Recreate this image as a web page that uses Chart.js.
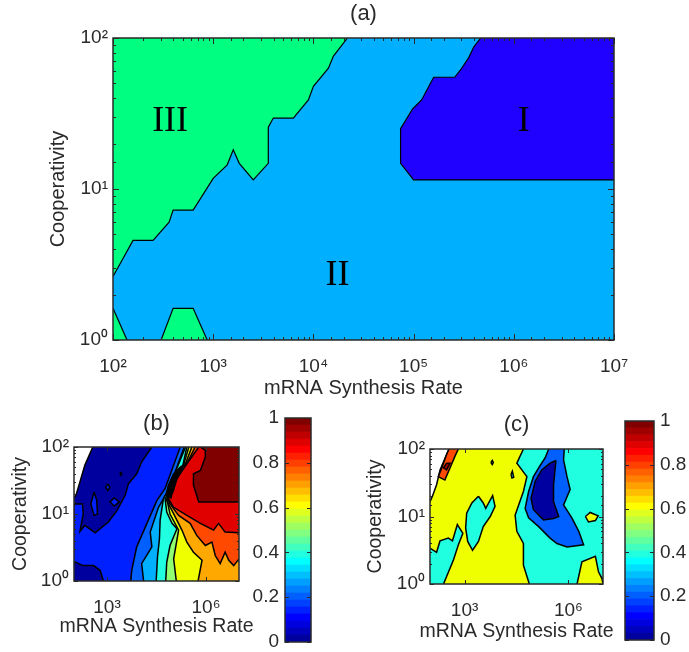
<!DOCTYPE html>
<html>
<head>
<meta charset="utf-8">
<title>Regions</title>
<script src="https://cdn.jsdelivr.net/npm/chart.js@4/dist/chart.umd.min.js"></script>
<style>
  body { margin: 0; background: #fff; width: 689px; height: 652px; overflow: hidden; }
  canvas { position: absolute; }
</style>
</head>
<body>
<script>
// all region outlines are log10(rate), log10(cooperativity)
const xLabel = 'mRNA Synthesis Rate';
const yLabel = 'Cooperativity';

// panel (a)
const aFullX = [2, 7, 7, 2];
const aFullY = [0, 0, 2, 2];
const aGreenX = [4.34, 4.20, 4.15, 4.00, 3.95, 3.80, 3.60, 3.55, 3.55, 3.40, 3.26, 3.20, 3.14, 3.00, 2.80, 2.60, 2.56, 2.40, 2.20, 2.10, 2, 2];
const aGreenY = [2, 1.88, 1.80, 1.68, 1.59, 1.47, 1.47, 1.41, 1.17, 1.06, 1.17, 1.26, 1.16, 1.07, 0.86, 0.86, 0.78, 0.66, 0.66, 0.54, 0.42, 2];
const aCornerX = [2, 2.14, 2];
const aCornerY = [0.21, 0, 0];
const aIslandX = [2.48, 2.60, 2.80, 2.94];
const aIslandY = [0, 0.21, 0.21, 0];
const aBlueX = [5.67, 5.60, 5.55, 5.47, 5.41, 5.20, 5.08, 4.99, 4.87, 4.87, 5.00, 7, 7];
const aBlueY = [2, 1.94, 1.87, 1.79, 1.74, 1.74, 1.59, 1.53, 1.40, 1.17, 1.06, 1.06, 2];
const aTexts = ['III', 'II', 'I'];
const aTextX = [2.57, 4.24, 6.10];
const aTextY = [1.45, 0.43, 1.45];

// panel (b)
const bNavyX = [2, 2.06, 2.18, 2.33, 2.57, 7, 7, 2];
const bNavyY = [1.24, 1.28, 1.48, 1.73, 2, 2, 0, 0];
const bBlueX = [4.36, 4.05, 3.90, 3.65, 3.55, 3.30, 3.04, 2.64, 2.33, 2.18, 2.28, 2.26, 2.03, 2, 2, 2.28, 2.59, 2.79, 2.89, 7, 7];
const bBlueY = [2, 1.78, 1.60, 1.45, 1.28, 1.05, 0.88, 0.72, 0.83, 0.74, 1.00, 1.15, 1.15, 1.13, 0.29, 0.23, 0.23, 0.16, 0, 0, 2];
const bHole1X = [2.61, 2.51, 2.61, 2.71, 2.69];
const bHole1Y = [1.33, 1.15, 0.98, 1.00, 1.20];
const bHole2X = [3.02, 2.96, 3.02, 3.09];
const bHole2Y = [1.45, 1.40, 1.35, 1.40];
const bHole3X = [3.22, 3.09, 3.22, 3.37];
const bHole3Y = [1.24, 1.18, 1.12, 1.18];
const bDotX = [3.39, 3.42, 3.45, 3.42];
const bDotY = [1.60, 1.62, 1.60, 1.58];
const bAzureX = [3.72, 3.75, 3.90, 4.21, 4.51, 4.76, 5.22, 7, 7];
const bAzureY = [0, 0.16, 0.51, 0.86, 1.20, 1.38, 2, 2, 0];
const bSkyX = [4.11, 4.05, 4.36, 4.31, 4.56, 4.86, 5.34, 7, 7];
const bSkyY = [0, 0.26, 0.51, 0.73, 1.10, 1.35, 2, 2, 0];
const bTealX = [4.49, 4.53, 4.59, 4.61, 4.71, 4.79, 4.91, 5.38, 7, 7];
const bTealY = [0, 0.36, 0.63, 0.91, 1.23, 1.30, 1.43, 2, 2, 0];
const bGreenX = [4.78, 4.81, 4.91, 5.12, 4.97, 4.81, 4.76, 4.86, 5.04, 5.17, 5.30, 5.42, 7, 7];
const bGreenY = [0, 0.28, 0.53, 0.78, 0.86, 1.03, 1.23, 1.30, 1.48, 1.60, 1.73, 2, 2, 0];
const bYellowX = [5.10, 5.02, 5.17, 4.91, 4.81, 4.91, 5.07, 5.20, 5.32, 5.48, 7, 7];
const bYellowY = [0, 0.33, 0.76, 1.00, 1.23, 1.30, 1.48, 1.60, 1.73, 2, 2, 0];
const bOrangeX = [5.76, 5.88, 5.62, 5.42, 5.27, 4.97, 4.81, 4.94, 5.10, 5.23, 5.34, 5.57, 7, 7];
const bOrangeY = [0, 0.31, 0.43, 0.58, 0.76, 1.05, 1.20, 1.30, 1.48, 1.60, 1.70, 2, 2, 0];
const bFlameX = [7, 6.84, 6.69, 6.58, 6.43, 6.28, 6.18, 5.98, 5.72, 5.52, 5.17, 4.91, 4.83, 4.96, 5.12, 5.25, 5.35, 5.67, 7];
const bFlameY = [0.33, 0.23, 0.31, 0.43, 0.26, 0.38, 0.58, 0.53, 0.68, 0.86, 0.98, 1.15, 1.23, 1.30, 1.48, 1.60, 1.68, 2, 2];
const bRedX = [7, 6.58, 6.38, 6.23, 5.83, 5.42, 5.02, 4.86, 5.00, 5.12, 5.42, 5.78, 7];
const bRedY = [0.72, 0.73, 0.86, 0.76, 0.86, 0.98, 1.10, 1.23, 1.33, 1.53, 1.75, 2, 2];
const bDarkX = [5.83, 5.98, 5.98, 5.83, 5.62, 5.62, 5.78, 7, 7];
const bDarkY = [2, 1.95, 1.85, 1.65, 1.60, 1.43, 1.18, 1.18, 2];
const bRidgeX = [4.79, 4.94, 5.02, 5.17, 5.32, 5.22, 5.02, 4.86];
const bRidgeY = [1.28, 1.24, 1.43, 1.58, 1.73, 1.70, 1.60, 1.43];

// panel (c)
const cYellowX = [2, 2.07, 2.19, 2.29, 2.55, 7, 7, 2];
const cYellowY = [1.22, 1.30, 1.47, 1.69, 2, 2, 0, 0];
const cFlameX = [2.55, 2.82, 2.72, 2.43, 2.24, 2.34, 2.48];
const cFlameY = [2, 2, 1.89, 1.54, 1.59, 1.72, 1.92];
const cDarkX = [2.48, 2.58, 2.48, 2.39];
const cDarkY = [1.79, 1.79, 1.69, 1.72];
const cLeftX = [2, 2.19, 2.29, 2.53, 2.65, 2.79, 2.95, 2.82, 2.68, 2.39, 2];
const cLeftY = [0.53, 0.47, 0.64, 0.68, 0.64, 0.88, 0.75, 0.58, 0.36, 0, 0];
const cMidX = [3.40, 3.21, 3.06, 3.03, 3.09, 3.23, 3.40, 3.54, 3.74, 3.88, 3.81, 3.61, 3.54];
const cMidY = [1.30, 1.20, 1.05, 0.83, 0.63, 0.50, 0.63, 0.85, 1.00, 1.15, 1.31, 1.12, 1.20];
const cDot1X = [3.76, 3.80, 3.83, 3.80];
const cDot1Y = [1.80, 1.83, 1.80, 1.77];
const cDot2X = [4.34, 4.38, 4.42, 4.37];
const cDot2Y = [1.62, 1.67, 1.58, 1.57];
const cTealX = [4.70, 4.51, 4.80, 4.70, 4.46, 4.51, 4.70, 4.70, 4.87, 7, 7];
const cTealY = [2, 1.79, 1.59, 1.37, 1.02, 0.78, 0.60, 0.28, 0, 0, 2];
const cFootX = [6.25, 6.39, 6.78, 6.87, 6.97, 7];
const cFootY = [0, 0.33, 0.41, 0.18, 0.08, 0];
const cPatchX = [6.49, 6.63, 6.86, 6.78, 6.58];
const cPatchY = [1.00, 1.06, 1.01, 0.94, 0.92];
const cBlueX = [5.43, 5.33, 5.14, 4.99, 4.85, 4.75, 4.85, 5.14, 5.47, 5.67, 5.96, 6.44, 6.30, 6.10, 5.86, 6.05, 5.96, 5.86, 5.88];
const cBlueY = [2, 1.87, 1.72, 1.59, 1.37, 1.12, 0.98, 0.85, 0.68, 0.60, 0.55, 0.58, 0.78, 0.98, 1.17, 1.40, 1.59, 1.84, 2];
const cNavyX = [5.64, 5.47, 5.23, 5.04, 4.92, 4.99, 5.28, 5.57, 5.72, 5.57, 5.57];
const cNavyY = [1.83, 1.79, 1.69, 1.52, 1.27, 1.10, 0.95, 0.97, 1.00, 1.22, 1.47];

// colour bars
const barColors = ['#00009F', '#0000BF', '#0000DF', '#0000FF', '#0020FF', '#0040FF', '#0060FF', '#0080FF',
  '#009FFF', '#00BFFF', '#00DFFF', '#00FFFF', '#20FFDF', '#40FFBF', '#60FF9F', '#80FF80',
  '#9FFF60', '#BFFF40', '#DFFF20', '#FFFF00', '#FFDF00', '#FFBF00', '#FF9F00', '#FF8000',
  '#FF6000', '#FF4000', '#FF2000', '#FF0000', '#DF0000', '#BF0000', '#9F0000', '#800000'];
const barStep = 0.03125;
const barTicks = [0, 0.2, 0.4, 0.6, 0.8, 1];

const aDecades = [2, 3, 4, 5, 6, 7];
const smallDecades = [3, 6];
const yDecades = [0, 1, 2];

const SUP = { 0: '⁰', 1: '¹', 2: '²', 3: '³', 4: '⁴', 5: '⁵', 6: '⁶', 7: '⁷' };
const FONT = 'Liberation Sans';
const INK = '#2a2a2a';
Chart.defaults.font.family = FONT;
Chart.defaults.color = INK;
Chart.defaults.animation = false;

function addCanvas(left, top, w, h) {
  const c = document.createElement('canvas');
  c.width = w;
  c.height = h;
  c.style.left = left + 'px';
  c.style.top = top + 'px';
  c.style.width = w + 'px';
  c.style.height = h + 'px';
  document.body.appendChild(c);
  return c.getContext('2d');
}

function isDecade(v) {
  const l = Math.log10(v);
  return Math.abs(l - Math.round(l)) < 1e-6;
}

// frame and inward ticks, taken from the chart's own scales
const frameTicks = {
  id: 'frameTicks',
  afterDatasetsDraw(chart, args, o) {
    const { ctx, chartArea: a } = chart;
    ctx.save();
    ctx.strokeStyle = '#2a2a2a';
    ctx.lineWidth = 1;
    ctx.beginPath();
    chart.scales.y.ticks.forEach(t => {
      const p = Math.round(chart.scales.y.getPixelForValue(t.value)) + 0.5;
      const len = o.linearY ? o.major : (isDecade(t.value) ? o.major : o.minor);
      ctx.moveTo(a.left, p); ctx.lineTo(a.left + len, p);
      ctx.moveTo(a.right, p); ctx.lineTo(a.right - len, p);
    });
    if (chart.scales.x.type === 'logarithmic') {
      chart.scales.x.ticks.forEach(t => {
        const decade = isDecade(t.value);
        const exp = Math.round(Math.log10(t.value));
        if (o.onlyLabelled && !(decade && smallDecades.includes(exp))) return;
        const p = Math.round(chart.scales.x.getPixelForValue(t.value)) + 0.5;
        const len = decade ? o.major : o.minor;
        ctx.moveTo(p, a.top); ctx.lineTo(p, a.top + len);
        ctx.moveTo(p, a.bottom); ctx.lineTo(p, a.bottom - len);
      });
    }
    ctx.stroke();
    ctx.lineWidth = 1.5;
    ctx.strokeRect(a.left, a.top, a.right - a.left, a.bottom - a.top);
    ctx.restore();
  }
};

// x title is wider than the small panels, the scale title would squeeze it
const xTitle = {
  id: 'xTitle',
  afterDraw(chart, args, o) {
    const { ctx, chartArea: a } = chart;
    ctx.save();
    ctx.font = o.size + 'px "' + FONT + '"';
    ctx.fillStyle = INK;
    ctx.textAlign = 'center';
    ctx.textBaseline = 'middle';
    ctx.fillText(xLabel, (a.left + a.right) / 2, o.y);
    ctx.restore();
  }
};

const regionText = {
  id: 'regionText',
  afterDatasetsDraw(chart) {
    const { ctx, scales } = chart;
    ctx.save();
    ctx.font = '36px "Liberation Serif"';
    ctx.fillStyle = '#000';
    ctx.textAlign = 'center';
    ctx.textBaseline = 'middle';
    aTexts.forEach((t, i) => {
      ctx.fillText(t, scales.x.getPixelForValue(10 ** aTextX[i]), scales.y.getPixelForValue(10 ** aTextY[i]));
    });
    ctx.restore();
  }
};

function onFrame(p, q) {
  return (p[0] === q[0] && (p[0] === 2 || p[0] === 7)) || (p[1] === q[1] && (p[1] === 0 || p[1] === 2));
}

// one filled polygon plus its contour line; frame edges get no contour
function regionSets(regions, lineWidth) {
  const out = [];
  const n = regions.length;
  regions.forEach(([xs, ys, color], i) => {
    const pts = xs.map((x, k) => ({ x: 10 ** x, y: 10 ** ys[k] }));
    out.push({
      data: pts, showLine: true, fill: 'shape', backgroundColor: color, borderWidth: 0,
      pointRadius: 0, tension: 0, order: 2 * (n - i)
    });
    const line = [];
    xs.forEach((x, k) => {
      const next = (k + 1) % xs.length;
      line.push(pts[k]);
      if (onFrame([x, ys[k]], [xs[next], ys[next]])) line.push({ x: NaN, y: NaN });
      else if (next === 0) line.push(pts[0]);
    });
    out.push({
      data: line, showLine: true, fill: false, borderColor: '#000', borderWidth: lineWidth,
      pointRadius: 0, tension: 0, spanGaps: false, order: 2 * (n - i) - 1
    });
  });
  return out;
}

function logChart(ctx, b) {
  return new Chart(ctx, {
    type: 'scatter',
    data: { datasets: regionSets(b.regions, b.lineWidth) },
    plugins: b.extra ? [frameTicks, xTitle, regionText] : [frameTicks, xTitle],
    options: {
      responsive: false,
      layout: { autoPadding: false, padding: { left: b.padLeft, right: b.padRight, top: 0, bottom: 0 } },
      plugins: {
        legend: { display: false },
        tooltip: { enabled: false },
        title: {
          display: true, text: b.title, fullSize: false, color: INK,
          font: { size: 22, weight: 'normal' },
          padding: { top: b.titleTop, bottom: b.titleBottom }
        },
        frameTicks: { major: b.major, minor: b.minor, onlyLabelled: b.xDecades === smallDecades },
        xTitle: { size: b.labelSize, y: b.xTitleY }
      },
      scales: {
        x: {
          type: 'logarithmic', min: 1e2, max: 1e7,
          grid: { display: false, drawTicks: false }, border: { display: false },
          ticks: {
            font: { size: 19 }, padding: 15, autoSkip: false, maxRotation: 0,
            callback: v => {
              const e = Math.round(Math.log10(v));
              return isDecade(v) && b.xDecades.includes(e) ? '10' + SUP[e] : '';
            }
          },
          afterFit: s => { s.height = b.xHeight; }
        },
        y: {
          type: 'logarithmic', min: 1, max: 100,
          grid: { display: false, drawTicks: false }, border: { display: false },
          title: { display: true, text: yLabel, font: { size: b.labelSize }, padding: 0 },
          ticks: {
            font: { size: 19 }, padding: 5, autoSkip: false,
            callback: v => {
              const e = Math.round(Math.log10(v));
              return isDecade(v) && yDecades.includes(e) ? '10' + SUP[e] : '';
            }
          },
          afterFit: s => { s.width = b.yWidth; }
        }
      }
    }
  });
}

function barChart(ctx, pad, side, axisWidth) {
  return new Chart(ctx, {
    type: 'bar',
    data: {
      labels: [''],
      datasets: barColors.map(c => ({
        data: [barStep], backgroundColor: c, borderWidth: 0, barPercentage: 1, categoryPercentage: 1
      }))
    },
    plugins: [frameTicks],
    options: {
      responsive: false,
      layout: { autoPadding: false, padding: pad },
      plugins: {
        legend: { display: false },
        tooltip: { enabled: false },
        title: { display: false },
        frameTicks: { major: 4, minor: 4, linearY: true }
      },
      scales: {
        x: { stacked: true, display: false },
        y: {
          position: side, stacked: true, min: 0, max: 1,
          grid: { display: false, drawTicks: false }, border: { display: false },
          afterBuildTicks: s => { s.ticks = barTicks.map(v => ({ value: v })); },
          ticks: { font: { size: 19 }, padding: 6, callback: v => String(v) },
          afterFit: s => {
            s.width = axisWidth;
            // bar ends sit on the padding, not pushed in for the tick labels
            s.paddingTop = 0;
            s.paddingBottom = 0;
          }
        }
      }
    }
  });
}

logChart(addCanvas(0, 0, 689, 399), {
  title: '(a)', titleTop: 0.8, titleBottom: 10.8, lineWidth: 1.2,
  labelSize: 20, padLeft: 46, padRight: 75, yWidth: 67, xHeight: 59, xTitleY: 388,
  major: 6, minor: 3, xDecades: aDecades, extra: true,
  regions: [
    [aFullX, aFullY, '#00B0FF'],
    [aGreenX, aGreenY, '#00FF80'],
    [aCornerX, aCornerY, '#00FF80'],
    [aIslandX, aIslandY, '#00FF80'],
    [aBlueX, aBlueY, '#2000FF']
  ]
});

logChart(addCanvas(0, 405, 262, 233), {
  title: '(b)', titleTop: 5.8, titleBottom: 9.8, lineWidth: 1.5,
  labelSize: 19.5, padLeft: 9, padRight: 23, yWidth: 65, xHeight: 57, xTitleY: 222,
  major: 4, minor: 2, xDecades: smallDecades,
  regions: [
    [bNavyX, bNavyY, '#00009F'],
    [bBlueX, bBlueY, '#0020FF'],
    [bHole1X, bHole1Y, '#0020FF'],
    [bHole2X, bHole2Y, '#0020FF'],
    [bHole3X, bHole3Y, '#0020FF'],
    [bDotX, bDotY, '#000'],
    [bAzureX, bAzureY, '#0060FF'],
    [bSkyX, bSkyY, '#00B0FF'],
    [bTealX, bTealY, '#20FFDF'],
    [bGreenX, bGreenY, '#90FF70'],
    [bYellowX, bYellowY, '#F0FF00'],
    [bOrangeX, bOrangeY, '#FFA800'],
    [bFlameX, bFlameY, '#FF4800'],
    [bRedX, bRedY, '#E00000'],
    [bDarkX, bDarkY, '#800000'],
    [bRidgeX, bRidgeY, '#000']
  ]
});

logChart(addCanvas(360, 405, 260, 239), {
  title: '(c)', titleTop: 6.8, titleBottom: 10.8, lineWidth: 1.5,
  labelSize: 19.5, padLeft: 4, padRight: 17, yWidth: 66, xHeight: 60, xTitleY: 227,
  major: 4, minor: 2, xDecades: smallDecades,
  regions: [
    [cYellowX, cYellowY, '#F0FF00'],
    [cFlameX, cFlameY, '#FF4800'],
    [cDarkX, cDarkY, '#A00000'],
    [cLeftX, cLeftY, '#20FFDF'],
    [cMidX, cMidY, '#20FFDF'],
    [cDot1X, cDot1Y, '#20FFDF'],
    [cDot2X, cDot2Y, '#20FFDF'],
    [cTealX, cTealY, '#20FFDF'],
    [cFootX, cFootY, '#F0FF00'],
    [cPatchX, cPatchY, '#F0FF00'],
    [cBlueX, cBlueY, '#0060FF'],
    [cNavyX, cNavyY, '#0000A0']
  ]
});

barChart(addCanvas(240, 405, 80, 247), { left: 0, right: 9, top: 13, bottom: 10 }, 'left', 45);
barChart(addCanvas(610, 405, 79, 247), { left: 15, right: 0, top: 16, bottom: 12 }, 'right', 35);
</script>
</body>
</html>
